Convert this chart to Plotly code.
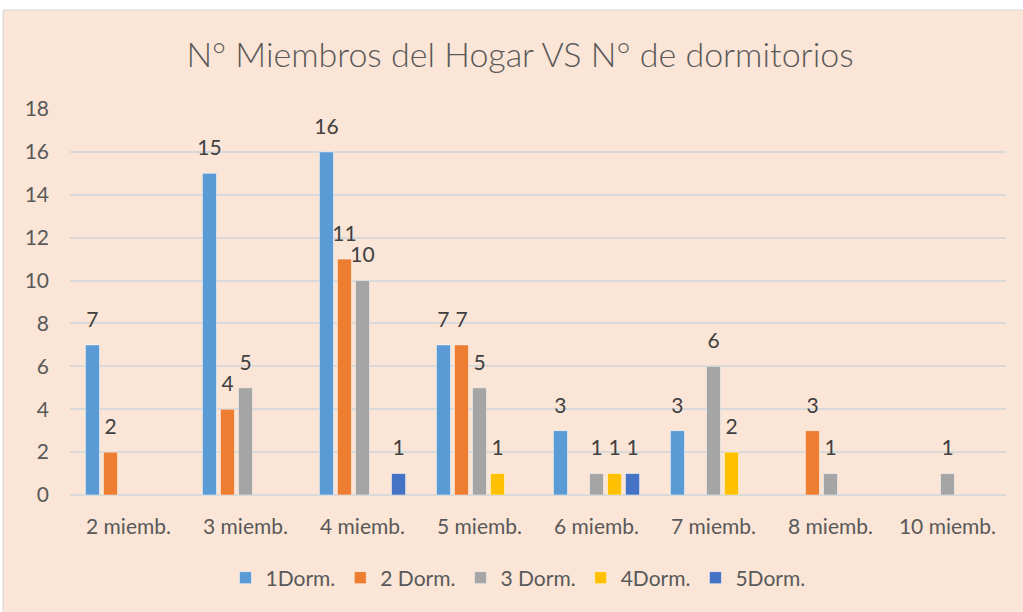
import plotly.graph_objects as go

categories = ["2 miemb.", "3 miemb.", "4 miemb.", "5 miemb.", "6 miemb.", "7 miemb.", "8 miemb.", "10 miemb."]
series_names = ["1Dorm.", "2 Dorm.", "3 Dorm.", "4Dorm.", "5Dorm."]
dorm1 = [7, 15, 16, 7, 3, 3, None, None]
dorm2 = [2, 4, 11, 7, None, None, 3, None]
dorm3 = [None, 5, 10, 5, 1, 6, 1, 1]
dorm4 = [None, None, None, 1, 1, 2, None, None]
dorm5 = [None, None, 1, None, 1, None, None, None]
colors = ["#5B9BD5", "#ED7D31", "#A5A5A5", "#FFC000", "#4472C4"]
y_ticks = list(range(0, 19, 2))

FONT = "Lato"
W, H = 1023, 612
ml, mr, mt, mb = 70, 17, 109, 117
pw, ph = W - ml - mr, H - mt - mb
GAP = 0.23

fig = go.Figure()
all_series = [dorm1, dorm2, dorm3, dorm4, dorm5]
for i, (name, vals, col) in enumerate(zip(series_names, all_series, colors)):
    fig.add_trace(go.Bar(
        x=categories, y=vals, name=name, offsetgroup=str(i),
        marker=dict(color=col, line=dict(color="rgba(255,255,255,0.5)", width=1)),
        cliponaxis=False,
    ))
for i, vals in enumerate(all_series):
    fig.add_trace(go.Scatter(
        x=categories, y=vals, mode="markers+text", offsetgroup=str(i),
        marker=dict(size=19, color="rgba(0,0,0,0)"),
        text=[("" if v is None else str(v)) for v in vals],
        textposition="top center",
        textfont=dict(family=FONT, size=21, color="#404040"),
        showlegend=False, hoverinfo="skip", cliponaxis=False,
    ))

def px_x(p):
    return (p - ml) / pw

def px_y(p):
    return (H - mb - p) / ph

fig.add_shape(type="rect", xref="paper", yref="paper",
              x0=px_x(3), x1=px_x(W + 5), y0=px_y(10), y1=px_y(H + 5),
              fillcolor="#FBE5D6", line=dict(color="#D9D9D9", width=1), layer="below")

fig.update_layout(
    width=W, height=H,
    margin=dict(l=ml, r=mr, t=mt, b=mb),
    paper_bgcolor="white",
    plot_bgcolor="rgba(0,0,0,0)",
    barmode="group",
    bargap=GAP,
    bargroupgap=0.22,
    scattermode="group",
    scattergap=GAP,
    title=dict(text="N° Miembros del Hogar VS N° de dormitorios",
               x=px_x(520), xref="paper", xanchor="center",
               y=1 - 55 / H, yanchor="middle",
               font=dict(family=FONT, size=34, color="#595959", weight=300)),
    showlegend=True,
    legend=dict(orientation="h", x=px_x(518), xanchor="center", y=px_y(578), yanchor="middle",
                font=dict(family=FONT, size=21, color="#595959"),
                bgcolor="rgba(0,0,0,0)", itemwidth=30, traceorder="normal"),
    font=dict(family=FONT, color="#595959"),
)
fig.update_xaxes(showgrid=False, showline=False, zeroline=False, ticks="",
                 tickfont=dict(family=FONT, size=21, color="#595959"), ticklabelstandoff=17)
fig.update_yaxes(range=[0, 18], tickvals=y_ticks, showgrid=True, gridcolor="#D9D9D9", gridwidth=2,
                 zeroline=True, zerolinecolor="#D9D9D9", zerolinewidth=2, showline=False, ticks="",
                 tickfont=dict(family=FONT, size=21, color="#595959"), ticklabelstandoff=20)

fig.write_html("out.html", config={"displayModeBar": False},
               post_script="document.body.style.margin='0';")
